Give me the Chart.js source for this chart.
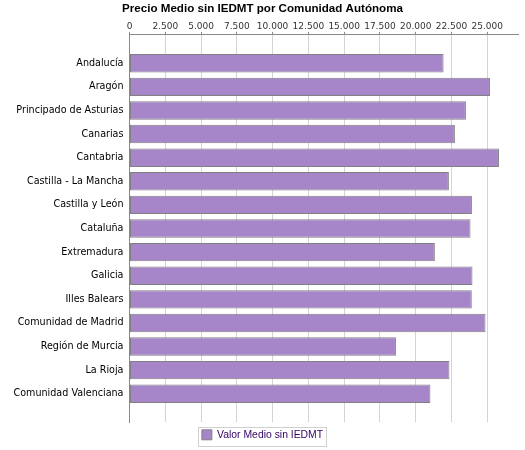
<!DOCTYPE html>
<html>
<head>
<meta charset="utf-8">
<script src="https://cdn.jsdelivr.net/npm/chart.js@4/dist/chart.umd.min.js"></script>
<style>
  html, body { margin: 0; padding: 0; background: #fff; }
  #wrap { width: 525px; height: 450px; }
</style>
</head>
<body>
<div id="wrap"><canvas id="chart" width="525" height="450"></canvas></div>
<script>
const CATEGORIES = [
  'Andalucía', 'Aragón', 'Principado de Asturias', 'Canarias', 'Cantabria',
  'Castilla - La Mancha', 'Castilla y León', 'Cataluña', 'Extremadura', 'Galicia',
  'Illes Balears', 'Comunidad de Madrid', 'Región de Murcia', 'La Rioja', 'Comunidad Valenciana'
];
const VALUES = [
  21950, 25190, 23510, 22740, 25820,
  22320, 23930, 23830, 21340, 23970,
  23920, 24880, 18620, 22360, 21030
];
const X_TICKS = [0, 2500, 5000, 7500, 10000, 12500, 15000, 17500, 20000, 22500, 25000];
const SERIES_LABEL = 'Valor Medio sin IEDMT';
const TITLE = 'Precio Medio sin IEDMT por Comunidad Autónoma';

const fmtDot = v => String(Math.round(v)).replace(/\B(?=(\d{3})+(?!\d))/g, '.');

// grey frame round the legend, like the original
const legendFrame = {
  id: 'legendFrame',
  afterDraw(chart) {
    const hb = chart.legend && chart.legend.legendHitBoxes && chart.legend.legendHitBoxes[0];
    if (!hb) return;
    const ctx = chart.ctx;
    ctx.save();
    ctx.strokeStyle = '#d0d0d0';
    ctx.lineWidth = 1;
    ctx.strokeRect(Math.round(hb.left) - 3.5, Math.round(hb.top) - 2.5, Math.round(hb.width) + 7, Math.round(hb.height) + 9);
    ctx.restore();
  }
};

new Chart(document.getElementById('chart').getContext('2d'), {
  type: 'bar',
  data: {
    datasets: [{
      label: SERIES_LABEL,
      data: VALUES.map((v, i) => ({ x: v, y: i })),
      backgroundColor: '#a686c8',
      borderColor: '#808080',
      borderWidth: 1,
      borderSkipped: false,
      barPercentage: 0.78,
      categoryPercentage: 1
    }]
  },
  options: {
    indexAxis: 'y',
    responsive: false,
    animation: false,
    layout: { padding: { left: 7, right: 7, top: 0, bottom: 0 } },
    plugins: {
      title: {
        display: true,
        text: TITLE,
        color: '#000',
        font: { family: 'Liberation Sans', size: 11.6, weight: 'bold' },
        padding: { top: 2, bottom: 5 }
      },
      legend: {
        position: 'bottom',
        labels: {
          color: '#330066',
          font: { family: 'Liberation Sans', size: 10.4 },
          boxWidth: 10,
          boxHeight: 10,
          padding: 7.5
        }
      },
      tooltip: { enabled: false }
    },
    scales: {
      x: {
        position: 'top',
        min: 0,
        max: 27150,
        afterBuildTicks: s => { s.ticks = X_TICKS.map(v => ({ value: v })); },
        afterFit: s => { s.height = 14; },
        ticks: {
          color: '#333',
          font: { family: 'DejaVu Sans', size: 9 },
          padding: 0,
          maxRotation: 0,
          autoSkip: false,
          callback: v => fmtDot(v)
        },
        grid: {
          color: '#d4d4d4',
          borderDash: [4, 3],
          tickColor: '#888',
          tickLength: 3,
          tickBorderDash: []
        },
        border: { display: true, color: '#888', dash: [] }
      },
      y: {
        type: 'linear',
        reverse: true,
        offset: false,
        min: -1.2,
        max: 15.2,
        afterBuildTicks: s => { s.ticks = CATEGORIES.map((_, i) => ({ value: i })); },
        afterFit: s => { s.width = 122.5; },
        ticks: {
          color: '#000',
          font: { family: 'DejaVu Sans', size: 9.6 },
          padding: 6,
          autoSkip: false,
          callback: v => CATEGORIES[v]
        },
        grid: { display: false, drawTicks: false },
        border: { display: true, color: '#888' }
      }
    }
  },
  plugins: [legendFrame]
});
</script>
</body>
</html>
